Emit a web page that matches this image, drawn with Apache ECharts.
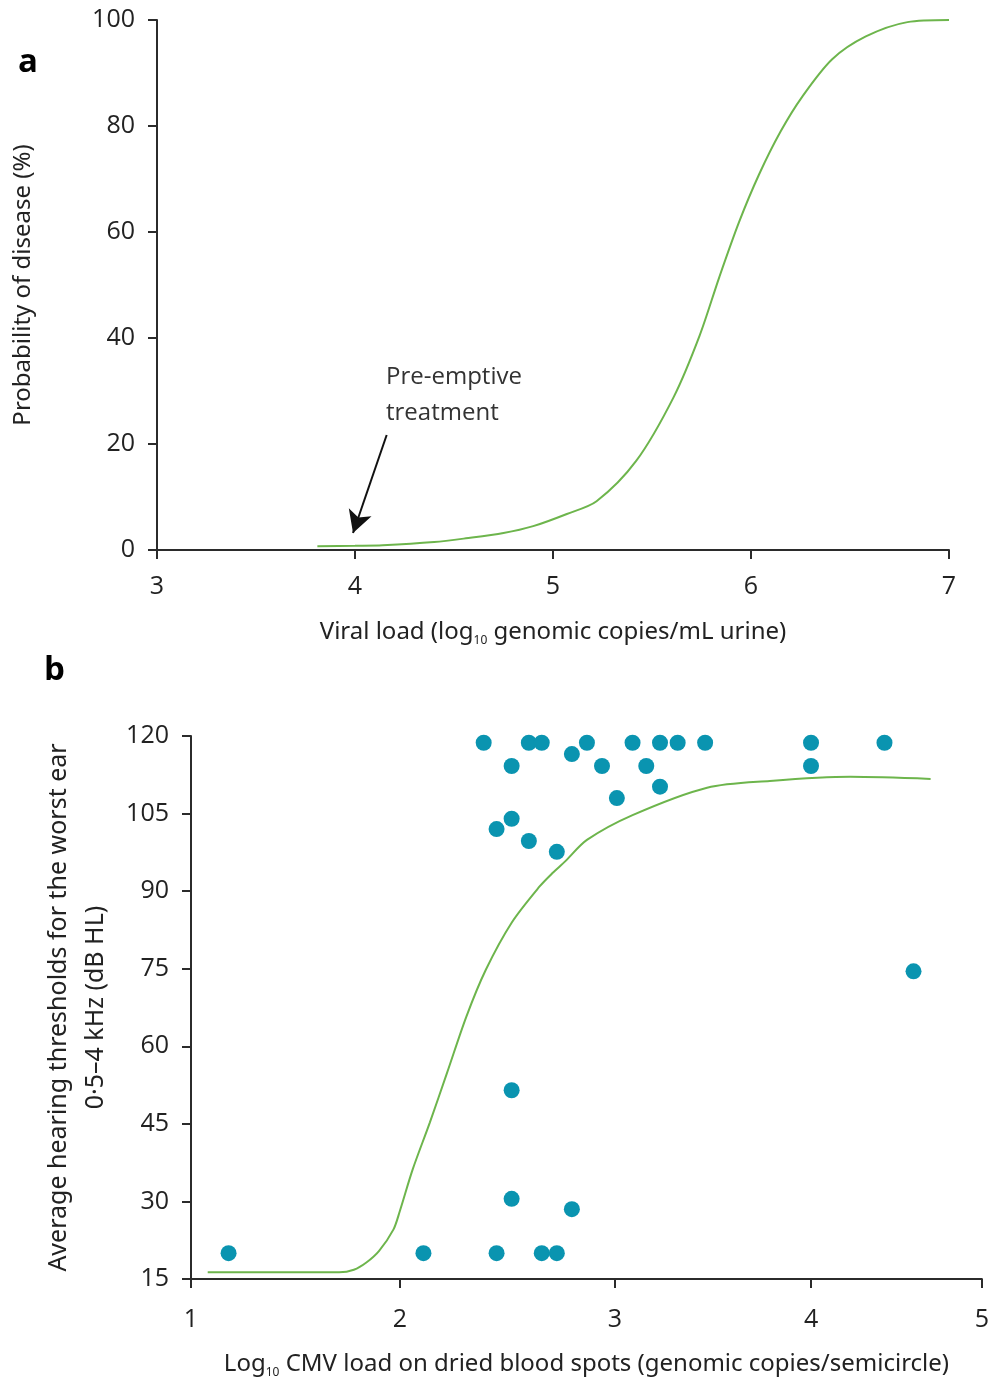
<!DOCTYPE html>
<html>
<head>
<meta charset="utf-8">
<script src="https://cdn.jsdelivr.net/npm/echarts@6/dist/echarts.min.js"></script>
<style>
  html, body { margin: 0; padding: 0; background: #fff; }
  #main { width: 992px; height: 1380px; }
</style>
</head>
<body>
<div id="main"></div>
<script>
// panel a : probabilite de maladie selon la charge virale urinaire
var viralLoad = [3.81, 4.0, 4.14, 4.4, 4.56, 4.75, 4.9, 5.07, 5.22, 5.42, 5.61, 5.74, 5.84, 5.94, 6.04, 6.15, 6.26, 6.41, 6.58, 6.79, 7.0];
var probDisease = [0.7, 0.8, 0.9, 1.5, 2.2, 3.2, 4.5, 6.8, 9.2, 16.8, 28.9, 40.4, 51.5, 61.9, 70.8, 79.0, 85.6, 92.6, 96.9, 99.6, 100];
// fleche "Pre-emptive treatment" (valeurs en unites des axes)
var arrowFrom = [4.16, 21.7];
var arrowTo = [3.99, 3.2];

// panel b : seuils auditifs selon la charge CMV
var cmvLoad = [1.18, 2.11, 2.45, 2.66, 2.73, 2.52, 2.52, 2.80, 4.60,
  2.45, 2.52, 2.60, 2.73, 3.01, 3.23, 2.52, 2.94, 3.16, 4.00, 2.80,
  2.39, 2.60, 2.66, 2.87, 3.09, 3.23, 3.32, 3.46, 4.00, 4.43];
var hearing = [20, 20, 20, 20, 20, 51.5, 30.5, 28.5, 74.5,
  102, 104, 99.7, 97.6, 108, 110.2, 114.2, 114.2, 114.2, 114.2, 116.5,
  118.7, 118.7, 118.7, 118.7, 118.7, 118.7, 118.7, 118.7, 118.7, 118.7];
var fitLoad = [1.08, 1.71, 1.78, 1.84, 1.90, 1.97, 2.00, 2.06, 2.14, 2.22, 2.31, 2.40, 2.52, 2.65, 2.71, 2.77, 2.87, 3.09, 3.47, 3.79, 4.23, 4.70];
var fitHearing = [16.3, 16.3, 16.8, 18.2, 20.4, 24.6, 28.1, 36.2, 45.3, 54.9, 65.8, 74.8, 83.9, 90.9, 93.5, 95.8, 99.9, 104.7, 110, 111.3, 112.1, 111.7];
var cmvTicks = [1, 2, 3, 4, 5];

// l'axe x du panneau b n'est pas regulier dans la figure d'origine :
// position relative de chaque graduation le long de l'axe
var cmvTickPos = [0, 0.264, 0.536, 0.784, 1];
function warp(v) {
  for (var i = 0; i < cmvTicks.length - 1; i++) {
    if (v <= cmvTicks[i + 1] || i == cmvTicks.length - 2) {
      var t = (v - cmvTicks[i]) / (cmvTicks[i + 1] - cmvTicks[i]);
      return cmvTickPos[i] + t * (cmvTickPos[i + 1] - cmvTickPos[i]);
    }
  }
}

var topCurve = viralLoad.map(function(x, i) { return [x, probDisease[i]]; });
var points = cmvLoad.map(function(x, i) { return [warp(x), hearing[i]]; });
var fitCurve = fitLoad.map(function(x, i) { return [warp(x), fitHearing[i]]; });

var ink = '#2b2b2b';
var green = '#6db54c';
var teal = '#0a94b0';
var numFont = '"Open Sans", sans-serif';
var nameFont = '"Noto Sans", sans-serif';
var subStyle = { fontSize: 12, fontFamily: nameFont, color: '#222', verticalAlign: 'bottom', lineHeight: 22 };

function axisBase() {
  return {
    type: 'value',
    splitLine: { show: false },
    axisLine: { show: true, onZero: false, lineStyle: { color: ink, width: 2 } },
    axisTick: { show: true, inside: false, length: 9, lineStyle: { color: ink, width: 2 } },
    axisLabel: { color: '#222', fontSize: 25, fontFamily: numFont, margin: 22 }
  };
}

var myChart = echarts.init(document.getElementById('main'), null, { renderer: 'canvas' });

var xa = axisBase();
Object.assign(xa, {
  gridIndex: 0, min: 3, max: 7, interval: 1,
  name: 'Viral load (log{sub|10} genomic copies/mL urine)',
  nameLocation: 'middle', nameGap: 67,
  nameTextStyle: { color: '#222', fontSize: 24, fontFamily: nameFont, lineHeight: 30, rich: { sub: subStyle } }
});
xa.axisLabel.margin = 24;
var ya = axisBase();
Object.assign(ya, {
  gridIndex: 0, min: 0, max: 100, interval: 20,
  name: 'Probability of disease (%)',
  nameLocation: 'middle', nameGap: 122,
  nameTextStyle: { color: '#222', fontSize: 24, fontFamily: nameFont }
});

var xb = axisBase();
Object.assign(xb, {
  gridIndex: 1, min: 0, max: 1,
  name: 'Log{sub|10} CMV load on dried blood spots (genomic copies/semicircle)',
  nameLocation: 'middle', nameGap: 70,
  nameTextStyle: { color: '#222', fontSize: 24, fontFamily: nameFont, lineHeight: 30, rich: { sub: subStyle } }
});
xb.axisTick.customValues = cmvTickPos;
xb.axisLabel.customValues = cmvTickPos;
xb.axisLabel.margin = 28;
xb.axisLabel.formatter = function(v) {
  var best = 0;
  for (var i = 0; i < cmvTickPos.length; i++) {
    if (Math.abs(cmvTickPos[i] - v) < Math.abs(cmvTickPos[best] - v)) best = i;
  }
  return String(cmvTicks[best]);
};
var yb = axisBase();
Object.assign(yb, {
  gridIndex: 1, min: 15, max: 120, interval: 15,
  name: 'Average hearing thresholds for the worst ear\n0\u00b75\u20134 kHz (dB HL)',
  nameLocation: 'middle', nameGap: 77,
  nameTextStyle: { color: '#222', fontSize: 25, lineHeight: 37, fontFamily: nameFont }
});

var option = {
  animation: false,
  backgroundColor: '#fff',
  grid: [
    { left: 157, top: 20, width: 792, height: 530 },
    { left: 191, top: 736, width: 791, height: 544 }
  ],
  xAxis: [xa, xb],
  yAxis: [ya, yb],
  graphic: [
    { type: 'text', left: 18, top: 46, style: { text: 'a', font: 'bold 33px "Open Sans", sans-serif', fill: '#000' } },
    { type: 'text', left: 44, top: 654, style: { text: 'b', font: 'bold 33px "Open Sans", sans-serif', fill: '#000' } },
    { type: 'text', left: 386, top: 359, style: { text: 'Pre-emptive\ntreatment', font: '24px "Open Sans", sans-serif', lineHeight: 36, fill: '#333' } }
  ],
  series: [
    {
      name: 'Probability', type: 'line', xAxisIndex: 0, yAxisIndex: 0,
      data: topCurve, smooth: 0.3, showSymbol: false,
      lineStyle: { color: green, width: 2 },
      markLine: {
        silent: true, symbol: ['none', 'arrow'], symbolSize: [18, 22],
        label: { show: false },
        lineStyle: { color: '#111', width: 2, type: 'solid' },
        data: [[{ coord: arrowFrom }, { coord: arrowTo }]]
      }
    },
    {
      name: 'Fit', type: 'line', xAxisIndex: 1, yAxisIndex: 1,
      data: fitCurve, smooth: 0.3, showSymbol: false,
      lineStyle: { color: green, width: 2 }
    },
    {
      name: 'Hearing', type: 'scatter', xAxisIndex: 1, yAxisIndex: 1,
      data: points, symbolSize: 16,
      itemStyle: { color: teal, opacity: 1 }
    }
  ]
};

myChart.setOption(option);
</script>
</body>
</html>
